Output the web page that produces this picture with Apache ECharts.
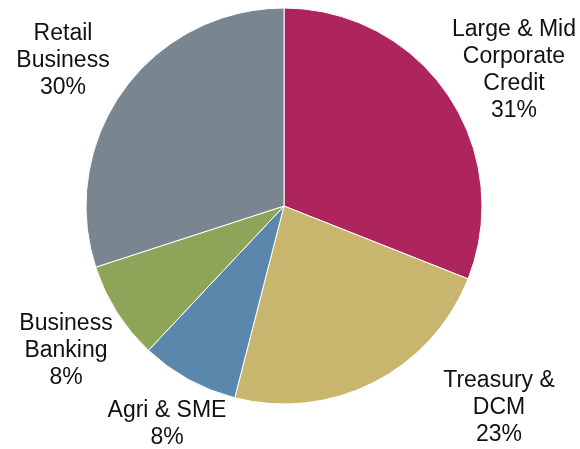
<!DOCTYPE html>
<html>
<head>
<meta charset="utf-8">
<style>
  html, body { margin: 0; padding: 0; background: #fff; }
  #chart { width: 580px; height: 449px; }
</style>
<script src="https://cdn.jsdelivr.net/npm/echarts@6/dist/echarts.min.js"></script>
</head>
<body>
<div id="chart"></div>
<script>
// segment names (clockwise from 12 o'clock) and their shares in %
const segments = ['Large & Mid\nCorporate\nCredit', 'Treasury &\nDCM', 'Agri & SME', 'Business\nBanking', 'Retail\nBusiness'];
const shares = [31, 23, 8, 8, 30];
const colors = ['#AD255C', '#C8B66E', '#5B87AD', '#8DA459', '#7A868F'];

// where each label block sits (centre, px)
const labelPos = [[514, 70], [499, 408], [167, 424], [66, 351], [63, 61]];

const chart = echarts.init(document.getElementById('chart'));

chart.setOption({
  animation: false,
  series: [
    {
      type: 'pie',
      center: [284, 206],
      radius: 198,
      startAngle: 90,
      clockwise: true,
      data: segments.map((name, i) => ({
        name: name,
        value: shares[i],
        itemStyle: { color: colors[i] }
      })),
      itemStyle: {
        borderColor: '#fff',
        borderWidth: 1
      },
      label: {
        show: true,
        position: 'outside',
        formatter: '{b}\n{c}%',
        fontFamily: 'Liberation Sans, Arial, sans-serif',
        fontSize: 23,
        lineHeight: 27,
        color: '#111',
        align: 'center',
        overflow: 'none'
      },
      labelLine: { show: false },
      labelLayout: (params) => {
        const p = labelPos[params.dataIndex];
        return {
          x: p[0],
          y: p[1],
          align: 'center',
          verticalAlign: 'middle'
        };
      },
      emphasis: { disabled: true }
    }
  ]
});

window.addEventListener('resize', () => chart.resize());
</script>
</body>
</html>
